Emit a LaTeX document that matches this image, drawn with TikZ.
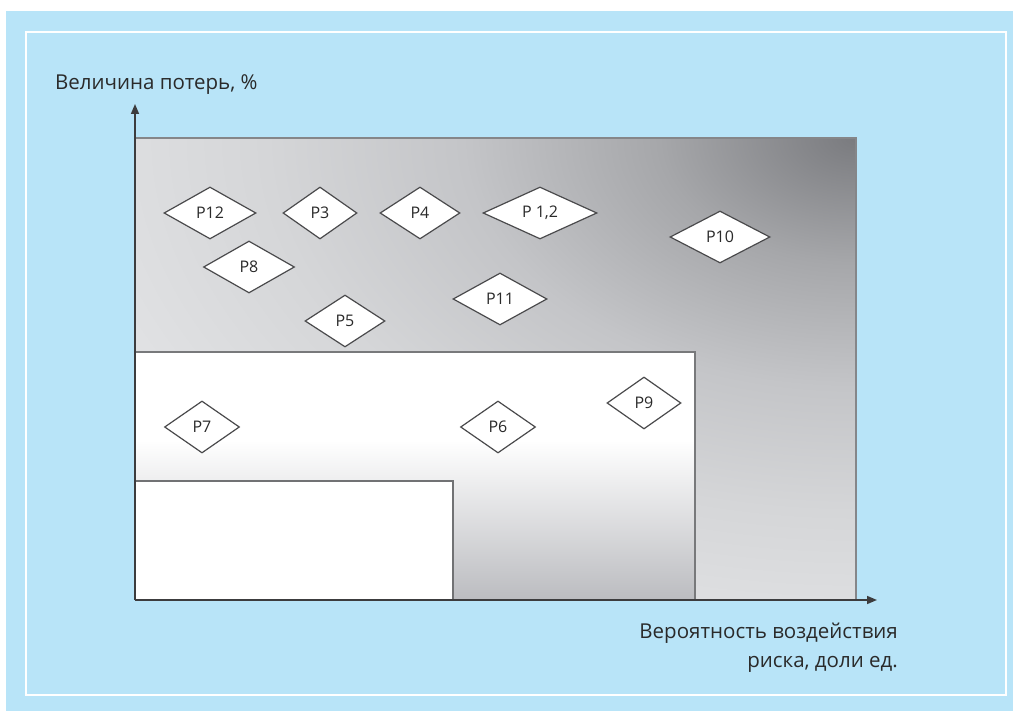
\documentclass[tikz,border=0pt]{standalone}
\usepackage{fontspec}
\setmainfont{Open Sans}
\usetikzlibrary{shapes.geometric,arrows.meta}
\definecolor{bgblue}{HTML}{B8E4F8}
\definecolor{axisgray}{HTML}{3C3C3E}
\definecolor{rimgray}{HTML}{858689}
\definecolor{txtgray}{HTML}{2A2A2A}
\definecolor{diagray}{HTML}{4A4A4C}
\definecolor{botgray}{HTML}{BBBCC0}
\definecolor{lightgray}{HTML}{E2E3E5}
\definecolor{shA}{RGB}{122,123,127}
\definecolor{shB}{RGB}{166,167,170}
\definecolor{shC}{RGB}{196,197,200}
\definecolor{shD}{RGB}{213,214,216}
\definecolor{shE}{RGB}{226,227,229}
\pgfdeclareradialshading{cornershade}{\pgfpoint{0bp}{0bp}}{%
  color(0bp)=(shA); color(6bp)=(shB); color(12bp)=(shC);
  color(18bp)=(shD); color(25bp)=(shE); color(50bp)=(shE)}
\tikzset{
  dia/.style={diamond, draw=diagray, fill=white, line width=1.2pt, inner sep=0pt,
    minimum height=52pt},
  dlabel/.style={font=\fontsize{16}{17}\selectfont, text=txtgray},
  axis/.style={draw=axisgray, line width=1.6pt, -{Triangle[length=10pt,width=8pt]}},
  rim/.style={draw=rimgray, line width=1.5pt},
  axlabel/.style={font=\fontsize{20.5}{29}\selectfont, text=txtgray}
}
\begin{document}
\begin{tikzpicture}[x=1pt,y=-1pt]
\useasboundingbox (0,0) rectangle (1013,711);
% background
\fill[white] (0,0) rectangle (1013,711);
\fill[bgblue] (6,11) rectangle (1013,711);
\draw[white, line width=2pt] (26,32) rectangle (1006,695);
% outer zone
\fill[lightgray] (135,138) rectangle (856,600);
\begin{scope}
  \clip (135,138) rectangle (856,600);
  \shade[shading=cornershade] (856,138) ellipse [x radius=820, y radius=520];
\end{scope}
\draw[rim] (135,138) -- (856,138) -- (856,600);
% middle zone
\fill[white] (135,352) rectangle (695,600);
\shade[top color=white, bottom color=botgray] (135,440) rectangle (695,600);
\draw[rim, draw=rimgray!90!black] (135,352) -- (695,352) -- (695,600);
% inner zone
\fill[white] (135,481) rectangle (453,600);
\draw[rim, draw=rimgray!85!black] (135,481) -- (453,481) -- (453,600);
% axes
\coordinate (O) at (135,600);
\coordinate (ytip) at (135,104);
\coordinate (xtip) at (877,600);
\draw[axis] (O) -- (ytip);
\draw[axis] (O) -- (xtip);
% labels
\node[axlabel, anchor=base west, inner sep=0pt] (ylab) at (55,90) {Величина потерь, \%};
\node[axlabel, anchor=base east, align=right, inner sep=0pt] (xlab) at (898,667)
  {Вероятность воздействия\\риска, доли ед.};
% diamonds
\node[dia, minimum width=92pt, label={[dlabel]center:P12}] (p12) at (210,213) {};
\node[dia, minimum width=74pt, label={[dlabel]center:P3}] (p3) at (320,213) {};
\node[dia, minimum width=80pt, label={[dlabel]center:P4}] (p4) at (420,213) {};
\node[dia, minimum width=114pt, label={[dlabel]center:P 1,2}] (p1) at (540,213) {};
\node[dia, minimum width=100pt, label={[dlabel]center:P10}] (p10) at (720,237) {};
\node[dia, minimum width=91pt, label={[dlabel]center:P8}] (p8) at (249,267) {};
\node[dia, minimum width=94pt, label={[dlabel]center:P11}] (p11) at (500,299) {};
\node[dia, minimum width=80pt, label={[dlabel]center:P5}] (p5) at (345,321) {};
\node[dia, minimum width=75pt, label={[dlabel]center:P7}] (p7) at (202,427) {};
\node[dia, minimum width=75pt, label={[dlabel]center:P6}] (p6) at (498,427) {};
\node[dia, minimum width=74pt, label={[dlabel]center:P9}] (p9) at (644,403) {};
\end{tikzpicture}
\end{document}
